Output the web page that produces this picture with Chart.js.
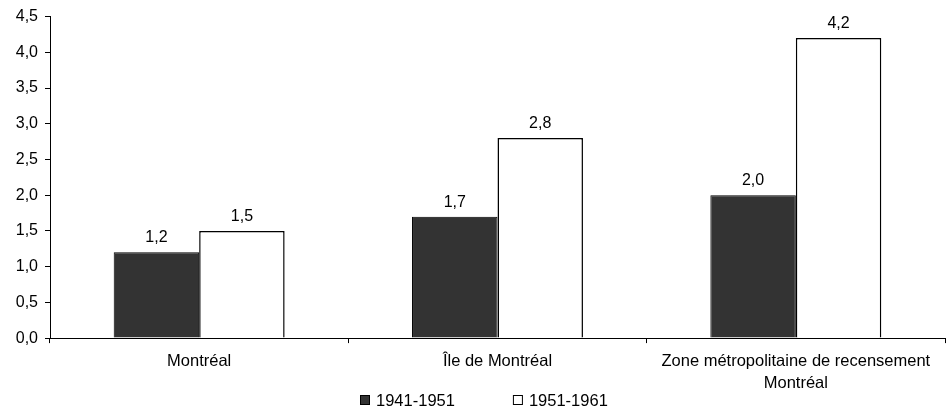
<!DOCTYPE html>
<html>
<head>
<meta charset="utf-8">
<script src="https://cdn.jsdelivr.net/npm/chart.js@4"></script>
<style>
  html, body { margin: 0; padding: 0; background: #fff; }
  #wrap { width: 946px; height: 409px; position: relative; }
</style>
</head>
<body>
<div id="wrap"><canvas id="chart"></canvas></div>
<script>
// Average annual growth rate (%) by territory and decade
const categories = ['Montréal', 'Île de Montréal', ['Zone métropolitaine de recensement', 'Montréal']];
const seriesNames = ['1941-1951', '1951-1961'];
const growth1941to1951 = [1.2, 1.7, 2.0];
const growth1951to1961 = [1.5, 2.8, 4.2];
const yTickLabels = ['0,0', '0,5', '1,0', '1,5', '2,0', '2,5', '3,0', '3,5', '4,0', '4,5'];

const FONT = '"Liberation Sans", Arial, Helvetica, sans-serif';
const fmt = v => v.toFixed(1).replace('.', ',');

// Value labels centred above each bar
const valueLabels = {
  id: 'valueLabels',
  afterDatasetsDraw(chart) {
    const ctx = chart.ctx;
    ctx.save();
    ctx.font = '16px ' + FONT;
    ctx.fillStyle = '#000';
    ctx.textAlign = 'center';
    ctx.textBaseline = 'alphabetic';
    chart.data.datasets.forEach((ds, di) => {
      chart.getDatasetMeta(di).data.forEach((bar, i) => {
        ctx.fillText(fmt(ds.data[i]), bar.x, bar.y - 10);
      });
    });
    ctx.restore();
  }
};

// Series key drawn in one row under the axis labels
const seriesKey = {
  id: 'seriesKey',
  afterDraw(chart) {
    const ctx = chart.ctx;
    ctx.save();
    ctx.font = '16.5px ' + FONT;
    const box = 10, textGap = 6, itemGap = 58;
    const items = chart.data.datasets.map(ds => ({
      text: ds.label, fill: ds.backgroundColor, stroke: ds.borderColor,
      w: ctx.measureText(ds.label).width
    }));
    const total = items.reduce((s, it) => s + box + textGap + it.w, 0) + itemGap * (items.length - 1);
    let x = Math.round(chart.width / 2 + 11 - total / 2);
    const cy = 400;
    ctx.textBaseline = 'middle';
    ctx.textAlign = 'left';
    items.forEach(it => {
      ctx.fillStyle = it.fill;
      ctx.fillRect(x, cy - box / 2, box, box);
      ctx.strokeStyle = it.stroke;
      ctx.lineWidth = 1;
      ctx.strokeRect(x + 0.5, cy - box / 2 + 0.5, box - 1, box - 1);
      ctx.fillStyle = '#000';
      ctx.fillText(it.text, x + box + textGap, cy + 1);
      x += box + textGap + it.w + itemGap;
    });
    ctx.restore();
  }
};

new Chart(document.getElementById('chart'), {
  type: 'bar',
  data: {
    labels: categories,
    datasets: [
      {
        label: seriesNames[0],
        data: growth1941to1951,
        backgroundColor: '#333333',
        borderColor: '#000000',
        borderWidth: 1
      },
      {
        label: seriesNames[1],
        data: growth1951to1961,
        backgroundColor: '#ffffff',
        borderColor: '#000000',
        borderWidth: 1.5
      }
    ]
  },
  options: {
    responsive: true,
    maintainAspectRatio: false,
    animation: false,
    events: [],
    datasets: { bar: { categoryPercentage: 0.573, barPercentage: 1.0 } },
    layout: { padding: { top: 6, right: 1, bottom: 7, left: 0 } },
    plugins: {
      legend: { display: false },
      tooltip: { enabled: false },
      title: { display: false }
    },
    scales: {
      x: {
        offset: true,
        grid: {
          offset: true,
          drawOnChartArea: false,
          drawTicks: true,
          tickLength: 5,
          color: '#000'
        },
        border: { display: true, color: '#000', width: 1 },
        ticks: {
          color: '#000',
          padding: 8,
          maxRotation: 0,
          autoSkip: false,
          font: { family: FONT, size: 16.5, lineHeight: 1.3 }
        }
      },
      y: {
        min: 0,
        max: 4.5,
        afterFit(scale) { scale.width = 50; },
        grid: {
          drawOnChartArea: false,
          drawTicks: true,
          tickLength: 5,
          color: '#000'
        },
        border: { display: true, color: '#000', width: 1 },
        ticks: {
          stepSize: 0.5,
          color: '#000',
          padding: 7,
          font: { family: FONT, size: 16 },
          callback: (v, i) => yTickLabels[i]
        }
      }
    }
  },
  plugins: [valueLabels, seriesKey]
});
</script>
</body>
</html>
